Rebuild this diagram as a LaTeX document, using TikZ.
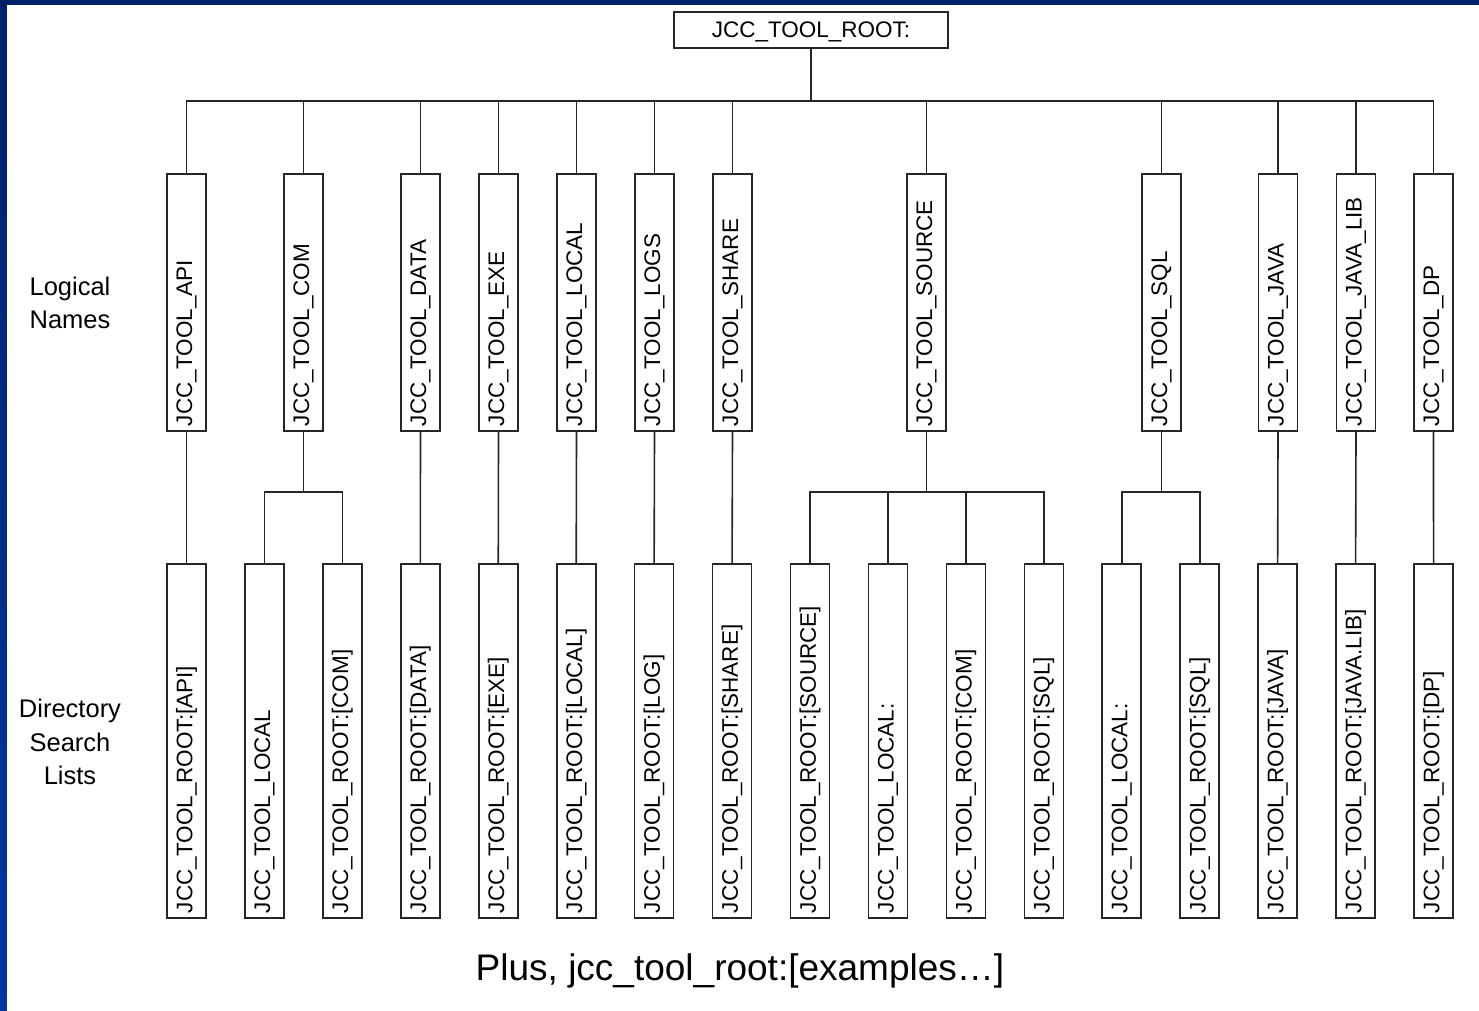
\documentclass[tikz,border=0pt]{standalone}
\usepackage{fontspec}
\setmainfont{Liberation Sans}
\usetikzlibrary{shadings, calc}
\definecolor{slidenavy}{HTML}{00216A}
\definecolor{slideblue}{HTML}{0036A2}

\begin{document}
\begin{tikzpicture}[x=1pt, y=-1pt, font=\fontsize{22.5}{27}\selectfont,
	line/.style={line width=1.6pt, draw=black!85},
	logical/.style={line, rotate=90, minimum width=257pt, minimum height=39pt, inner xsep=5pt, inner ysep=0pt, text width=247pt, align=left},
	dirlist/.style={logical, minimum width=354pt, text width=344pt},
	sidelabel/.style={align=center, font=\fontsize{25.5}{33.5}\selectfont}]

	% Slide background with the white page on top
	\useasboundingbox (0,0) rectangle (1479,1010);
	\shade[top color=slidenavy, bottom color=slideblue] (0,0) rectangle (1479,1010);
	\fill[white] (7,5) rectangle (1490,1020);

	% Root of the tree
	\node[line, minimum width=274pt, minimum height=36pt, inner sep=0pt, text depth=0pt] (root) at (811,30) {JCC\_TOOL\_ROOT:};
	\coordinate (bus) at (811,101);
	\draw[line] (root.south) -- (bus);

	% Logical names
	\foreach \name/\x/\txt in {api/186.5/API, com/303.5/COM, data/420.5/DATA, exe/498.5/EXE,
		local/576.5/LOCAL, logs/654.5/LOGS, share/732.5/SHARE, source/926.5/SOURCE,
		sql/1161.5/SQL, java/1278/JAVA, javalib/1356/{JAVA\_LIB}, dp/1433.5/DP}
	{
		\node[logical] (\name) at (\x,302.5) {JCC\_TOOL\_\txt};
		\draw[line] (\name.east) |- (bus);
	}

	% Directory search lists
	\foreach \name/\i/\txt in {d-api/0/{ROOT:[API]}, d-local1/1/LOCAL, d-com/2/{ROOT:[COM]},
		d-data/3/{ROOT:[DATA]}, d-exe/4/{ROOT:[EXE]}, d-local/5/{ROOT:[LOCAL]},
		d-log/6/{ROOT:[LOG]}, d-share/7/{ROOT:[SHARE]}, d-source/8/{ROOT:[SOURCE]},
		d-local2/9/{LOCAL:}, d-com2/10/{ROOT:[COM]}, d-sql/11/{ROOT:[SQL]},
		d-local3/12/{LOCAL:}, d-sql2/13/{ROOT:[SQL]}, d-java/14/{ROOT:[JAVA]},
		d-javalib/15/{ROOT:[JAVA.LIB]}, d-dp/16/{ROOT:[DP]}}
		\node[dirlist] (\name) at ({186.5+77.94*\i},741) {JCC\_TOOL\_\txt};

	% One list each
	\foreach \a/\b in {api/d-api, data/d-data, exe/d-exe, local/d-local, logs/d-log,
		share/d-share, java/d-java, javalib/d-javalib, dp/d-dp}
		\draw[line] (\a.west) -- (\b.east);

	% Several lists
	\path (com.west) ++(0,60) coordinate (com-br);
	\path (source.west) ++(0,60) coordinate (source-br);
	\path (sql.west) ++(0,60) coordinate (sql-br);
	\draw[line] (com.west) -- (com-br);
	\draw[line] (source.west) -- (source-br);
	\draw[line] (sql.west) -- (sql-br);
	\foreach \b in {d-local1, d-com}
		\draw[line] (\b.east) |- (com-br);
	\foreach \b in {d-source, d-local2, d-com2, d-sql}
		\draw[line] (\b.east) |- (source-br);
	\foreach \b in {d-local3, d-sql2}
		\draw[line] (\b.east) |- (sql-br);

	% Row labels
	\node[sidelabel] (lognames) at (70,303) {Logical\\Names};
	\node[sidelabel] (dirlists) at (70,742) {Directory\\Search\\Lists};

	\node[anchor=base, font=\fontsize{37}{44}\selectfont] (plus) at (740,980) {Plus, jcc\_tool\_root:[examples…]};

\end{tikzpicture}
\end{document}
